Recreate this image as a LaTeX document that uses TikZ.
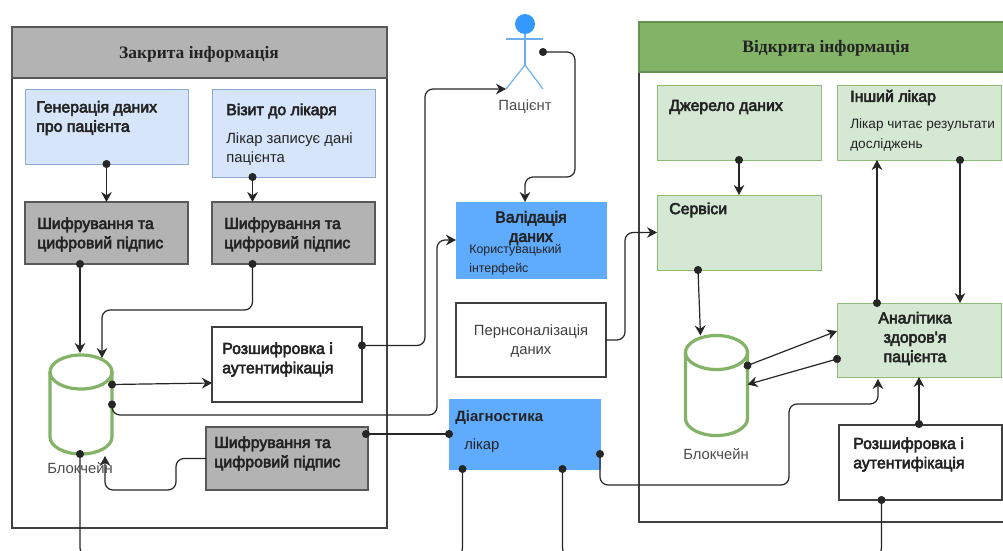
\documentclass[tikz,border=0pt]{standalone}
\usepackage{xcolor}
\usepackage{fontspec}
\setmainfont{Liberation Sans}
\newfontfamily\headfont{Liberation Serif}
\newfontfamily\medfont[FakeBold=3.5]{Liberation Sans}
\usetikzlibrary{arrows.meta, calc}
\definecolor{panelgray}{RGB}{179, 179, 179}
\definecolor{panelgreen}{RGB}{130, 179, 102}
\definecolor{lightblue}{RGB}{214, 229, 250}
\definecolor{borderblue}{RGB}{140, 170, 210}
\definecolor{lightgreen}{RGB}{213, 232, 212}
\definecolor{strongblue}{RGB}{95, 172, 255}
\definecolor{actorblue}{RGB}{51, 153, 255}
\definecolor{actorline}{RGB}{110, 175, 235}
\definecolor{inkgray}{RGB}{35, 35, 35}
\tikzset{
    wh/.style 2 args={minimum width=#1*0.75pt, minimum height=#2*0.75pt, inner sep=0pt, outer sep=0pt},
    whitebox/.style={draw=black!75, line width=0.8pt, fill=white},
    bluebox/.style={draw=borderblue, line width=0.7pt, fill=lightblue},
    graybox/.style={draw=black!65, line width=0.8pt, fill=panelgray},
    greenbox/.style={draw=panelgreen!90, line width=0.6pt, fill=lightgreen},
    strongbox/.style={draw=strongblue, fill=strongblue},
    chainline/.style={draw=panelgreen, line width=2.4pt},
    bigtext/.style={font=\fontsize{11.9}{14.5}\medfont, text=inkgray, align=left, anchor=west, inner sep=0pt},
    boldtext/.style={bigtext, font=\fontsize{11.2}{14.5}\selectfont\bfseries},
    midtext/.style={bigtext, font=\fontsize{11.1}{14.5}\selectfont},
    smalltext/.style={bigtext, font=\fontsize{10.2}{14.5}\selectfont},
    tinytext/.style={bigtext, font=\fontsize{9.3}{14.5}\selectfont},
    centertext/.style={bigtext, align=center, anchor=center},
    headtext/.style={font=\fontsize{13.1}{15}\headfont\bfseries, text=inkgray, anchor=center, inner sep=0pt},
    link/.style={draw=black!85, line width=0.9pt, rounded corners=6pt},
    dotarrow/.style={link, {Circle[length=6pt]}-{Stealth[length=7.5pt, width=8pt]}, shorten <=-3pt},
    dotline/.style={link, {Circle[length=6pt]}-{Circle[length=6pt]}, shorten <=-3pt, shorten >=-3pt},
    plainarrow/.style={link, -{Stealth[length=7.5pt, width=8pt]}},
    limb/.style={draw=actorline, line width=0.9pt}
}
\newcommand{\chainshape}[1]{
    \draw[chainline] ($(#1.north west)+(0,17)$) -- ($(#1.south west)+(0,-17)$)
        .. controls +(0,9.4) and ($(#1.south)+(-17.1,0)$) .. (#1.south)
        .. controls ($(#1.south)+(17.1,0)$) and ($(#1.south east)+(0,-7.6)$) .. ($(#1.south east)+(0,-17)$)
        -- ($(#1.north east)+(0,17)$);
    \draw[chainline] ($(#1.north)+(0,17)$) ellipse [x radius=31, y radius=17];
}

\begin{document}
\begin{tikzpicture}[x=0.75pt, y=-0.75pt]
    \useasboundingbox (0,0) rectangle (1003,550);

    % panels
    \node[whitebox, wh={375}{501}] (closedpanel) at (199.5,277.5) {};
    \node[graybox, wh={375}{51}] (closedhead) at (199.5,52.5) {};
    \node[headtext] (closedtitle) at (199,54) {Закрита інформація};
    \node[whitebox, wh={380}{500}] (openpanel) at (829,272) {};
    \node[draw=panelgreen!80!black, fill=panelgreen, line width=0.8pt, wh={380}{50}] (openhead) at (829,47) {};
    \node[headtext] (opentitle) at (826,48) {Відкрита інформація};

    % closed side
    \node[bluebox, wh={163}{75}] (gen) at (106.5,126.5) {};
    \node[bigtext] (gentext) at (36,118) {Генерація даних\\про пацієнта};
    \node[bluebox, wh={163}{88}] (visit) at (293.5,133) {};
    \node[bigtext] (visittitle) at (226,111) {Візит до лікаря};
    \node[midtext] (visittext) at (226,149) {Лікар записує дані\\пацієнта};
    \node[graybox, wh={163}{62}] (encleft) at (106.5,233) {};
    \node[bigtext] (enclefttext) at (37,234.5) {Шифрування та\\цифровий підпис};
    \node[graybox, wh={163}{62}] (encright) at (293.5,233) {};
    \node[bigtext] (encrighttext) at (224,234.5) {Шифрування та\\цифровий підпис};
    \node[wh={62}{99}] (chainleft) at (81,404.5) {};
    \chainshape{chainleft}
    \node[midtext, anchor=center, text=black!70] (chainlefttext) at (80,468) {Блокчейн};
    \node[whitebox, wh={150}{75}] (decleft) at (287,364.5) {};
    \node[bigtext] (declefttext) at (222,359.5) {Розшифровка і\\аутентифікація};
    \node[graybox, wh={162}{63}] (encbottom) at (287,458.5) {};
    \node[bigtext] (encbottomtext) at (214,453.5) {Шифрування та\\цифровий підпис};

    % patient
    \node[circle, fill=actorblue, wh={20}{20}] (head) at (525,24) {};
    \coordinate (neck) at (525,65);
    \coordinate (armleft) at (506,39);
    \coordinate (armright) at (543,39);
    \coordinate (footleft) at (506,89);
    \coordinate (footright) at (543,89);
    \coordinate (actorhand) at (543,52);
    \draw[limb] (head.south) -- (neck);
    \draw[limb] (armleft) -- (armright);
    \draw[limb] (footleft) -- (neck) -- (footright);
    \node[midtext, anchor=center, text=black!70] (patient) at (525,107) {Пацієнт};

    % middle column
    \node[strongbox, wh={150}{76}] (valid) at (531,240) {};
    \node[centertext] (validtitle) at (531,228) {Валідація\\даних};
    \node[tinytext] (validtext) at (469,260) {Користувацький\\інтерфейс};
    \node[whitebox, wh={150}{74}] (person) at (531,340) {};
    \node[midtext, centertext, font=\fontsize{11.1}{14.5}\selectfont, text=black!75] (persontext) at (531,341) {Пернсоналізація\\даних};
    \node[strongbox, wh={151}{70}] (diag) at (524.5,434) {};
    \node[boldtext] (diagtitle) at (455,418) {Діагностика};
    \node[midtext] (diagtext) at (464,446) {лікар};

    % open side
    \node[greenbox, wh={164}{75}] (source) at (739,122.5) {};
    \node[bigtext] (sourcetext) at (669,107) {Джерело даних};
    \node[greenbox, wh={164}{75}] (other) at (919,122.5) {};
    \node[bigtext] (othertitle) at (850,97.5) {Інший лікар};
    \node[smalltext] (othertext) at (850,135) {Лікар читає результати\\досліджень};
    \node[greenbox, wh={164}{75}] (services) at (739,232.5) {};
    \node[bigtext] (servicestext) at (669,210) {Сервіси};
    \node[greenbox, wh={164}{74}] (analytics) at (919,340) {};
    \node[centertext] (analyticstext) at (915,338.5) {Аналітика\\здоров'я\\пацієнта};
    \node[wh={62}{100}] (chainright) at (716.5,385.5) {};
    \chainshape{chainright}
    \node[midtext, anchor=center, text=black!70] (chainrighttext) at (716,454) {Блокчейн};
    \node[whitebox, wh={163}{75}] (decright) at (920.5,462.5) {};
    \node[bigtext] (decrighttext) at (853,454.5) {Розшифровка і\\аутентифікація};

    % connectors on the closed side
    \draw[dotarrow] (gen.south) -- (encleft.north);
    \draw[dotarrow] ($(visit.south)+(-41,0)$) -- ($(encright.north)+(-41,0)$);
    \draw[dotarrow] ($(encleft.south)+(-26.5,0)$) -- ($(chainleft.north)+(-1,-2)$);
    \draw[dotarrow] ($(encright.south)+(-41,0)$) |- (176,310) -| ($(chainleft.north)+(21,3)$);
    \draw[dotarrow] ($(chainleft.east)+(0,-20)$) -- ($(decleft.west)+(0,18.5)$);
    \draw[dotarrow] (chainleft.east) |- (270,415) -| (437,300) |- (valid.west);
    \draw[plainarrow] (encbottom.west) -- (176,458.5) -- (176,490) -- (105,490) -- ($(chainleft.south)+(24,2)$);
    \draw[dotline] ($(encbottom.east)+(-2,-24.5)$) -- (diag.west);

    % connectors round the patient
    \draw[dotarrow] ($(decleft.east)+(0,-19)$) -| (425,200) |- (footleft);
    \draw[dotarrow] (actorhand) -| (575,120) |- (525,177) -- (valid.north-|head.south);
    \draw[plainarrow] (person.east) -| (625,280) |- (services.west);

    % lines that leave the page at the bottom
    \draw[dotline] ($(chainleft.south)+(-1,0)$) |- (270,556) -| ($(diag.south)+(-62,0)$);
    \draw[dotline] ($(diag.south)+(38,0)$) |- (720,556) -| ($(decright.south)+(-39,0)$);
    \draw[dotarrow] ($(diag.east)+(0,20)$) |- (700,485) -| (789,440) |- (878,404) -- ($(analytics.south)+(-41,2)$);

    % connectors on the open side
    \draw[dotarrow] (source.south) -- (services.north);
    \draw[dotarrow] ($(services.south)+(-41,0)$) -- ($(chainright.north)+(-16,0)$);
    \draw[dotarrow] ($(chainright.east)+(0,-20)$) -- ($(analytics.west)+(0,-9)$);
    \draw[dotarrow] ($(analytics.west)+(0,19)$) -- ($(chainright.east)+(0,-1)$);
    \draw[dotarrow] ($(analytics.north)+(-42,0)$) -- ($(other.south)+(-42,0)$);
    \draw[dotarrow] ($(other.south)+(41,0)$) -- ($(analytics.north)+(41,0)$);
    \draw[dotarrow] ($(decright.north)+(-1.5,-1)$) -- (analytics.south);
\end{tikzpicture}
\end{document}
